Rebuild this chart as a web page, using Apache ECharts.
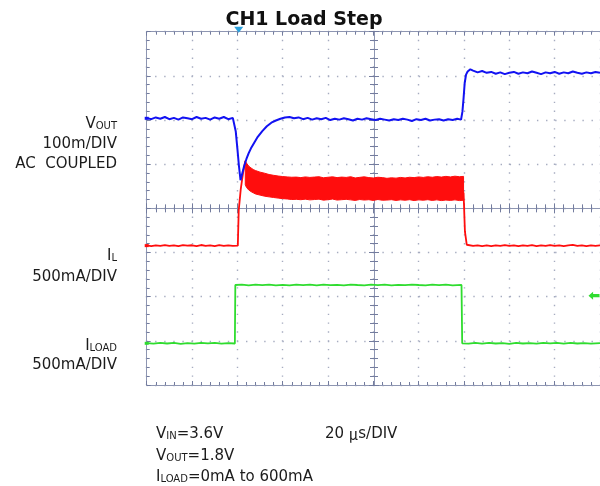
<!DOCTYPE html>
<html>
<head>
<meta charset="utf-8">
<script src="https://cdn.jsdelivr.net/npm/echarts@6/dist/echarts.min.js"></script>
<style>
  html, body { margin: 0; padding: 0; background: #fff; }
  #chart { width: 600px; height: 486px; }
</style>
</head>
<body>
<div id="chart"></div>
<script>
// ---- Scope settings -------------------------------------------------------
// Horizontal: 20 µs/div, 10 divisions. Vertical graticule: 8 divisions.
const timeRange = [0, 200];
const timePerDiv = 20;
const divRange = [-4, 4];

// Channel scales (each channel has its own offset on the screen)
const vOutRange = [-603.9, 196.1];   // mV, 100 mV/div, AC coupled
const iLRange = [-1578, 2422];       // mA, 500 mA/div
const iLoadRange = [-429, 3207];     // mA

// Trigger
const triggerTime = 40.6;            // µs
const triggerLevel = 490;            // mA on the load-current channel

// ---- Captured waveforms ----------------------------------------------------
// VOUT deviation [µs, mV]
const vOut = [
  [0, 1], [2, -2], [4, 2], [6, -1], [8, 3], [10, -2], [12, 1], [14, -3], [16, 2], [18, 0],
  [20, -2], [22, 3], [24, -1], [26, 1], [28, -3], [30, 2], [32, -1], [34, 3], [36, -2], [38, 1],
  [38.6, -2], [39.3, -30], [40, -68], [40.7, -108], [41.4, -140], [42.1, -126], [43, -108],
  [44, -92], [45, -79], [46, -68], [47.5, -55], [49, -42], [51, -29], [53, -18], [55, -10],
  [57, -5], [59, -1], [61, 2], [63, 3],
  [65, 0], [67, 2], [69, -2], [71, 1], [73, -3], [75, 0], [77, -2], [79, 1], [81, -4], [83, -1],
  [85, -3], [87, 0], [89, -2], [91, -5], [93, -1], [95, -3], [97, 0], [99, -2], [101, -4],
  [103, -1], [105, -3], [107, -5], [109, -2], [111, -4], [113, -1], [115, -3], [117, -6],
  [119, -2], [121, -4], [123, -1], [125, -5], [127, -3], [129, -2], [131, -5], [133, -2],
  [135, -4], [137, -1], [138.7, -3],
  [139.3, 15], [139.8, 45], [140.3, 80], [140.9, 99], [141.6, 106], [142.8, 111], [144, 108],
  [146, 104], [148, 107], [150, 103], [152, 105], [154, 101], [156, 104], [158, 100], [160, 103],
  [162, 105], [164, 101], [166, 104], [168, 102], [170, 106], [172, 103], [174, 100], [176, 104],
  [178, 102], [180, 105], [182, 101], [184, 104], [186, 102], [188, 106], [190, 103], [192, 101],
  [194, 104], [196, 102], [198, 105], [200, 103]
];

// Inductor current before the ripple band [µs, mA]
const iLRise = [
  [0, 2], [2, -5], [4, 4], [6, -2], [8, 6], [10, -4], [12, 3], [14, -6], [16, 5], [18, -1],
  [20, 4], [22, -5], [24, 7], [26, -2], [28, 3], [30, -6], [32, 5], [34, -3], [36, 4], [38, -2],
  [40.2, 0], [40.6, 400], [41.5, 640], [42.5, 820], [43.5, 960]
];

// Inductor current ripple envelope while loaded (µs, upper mA, lower mA)
const rippleTime = [
  43.5, 44, 45, 46, 47, 48, 50, 52, 54, 56, 58, 60, 62, 64, 66, 68, 70, 72, 74, 76, 78, 80,
  82, 84, 86, 88, 90, 92, 94, 96, 98, 100, 102, 104, 106, 108, 110, 112, 114, 116, 118, 120,
  122, 124, 126, 128, 130, 132, 134, 136, 138, 139.8
];
const rippleHigh = [
  960, 935, 900, 880, 862, 850, 832, 820, 805, 796, 788, 782, 778, 774, 776, 770, 778, 772,
  776, 780, 768, 774, 779, 770, 776, 772, 780, 766, 773, 779, 770, 766, 774, 770, 762, 768,
  764, 772, 766, 774, 770, 778, 772, 780, 774, 782, 776, 784, 778, 786, 780, 784
];
const rippleLow = [
  690, 660, 630, 612, 598, 585, 572, 560, 552, 545, 538, 532, 528, 522, 524, 520, 526, 518,
  522, 526, 515, 520, 527, 516, 520, 524, 518, 512, 522, 516, 520, 512, 522, 514, 516, 520,
  512, 518, 514, 520, 510, 518, 514, 520, 512, 518, 510, 516, 512, 518, 510, 514
];

// Inductor current after the load is released [µs, mA]
const iLFall = [
  [139.8, 600], [140.4, 160], [141.2, 10], [141.6, -6], [144, -2], [146, 4], [148, -5],
  [150, 2], [152, -6], [154, 3], [156, -3], [158, 5], [160, -4], [162, 2], [164, -6], [166, 4],
  [168, -2], [170, 5], [172, -5], [174, 2], [176, -3], [178, 6], [180, -4], [182, 2], [184, -5],
  [186, 3], [188, 8], [190, -2], [192, 4], [194, -5], [196, 2], [198, -3], [200, 3]
];

// Load current [µs, mA]
const iLoad = [
  [0, 3], [3, -4], [6, 5], [9, -2], [12, 4], [15, -5], [18, 2], [21, -3], [24, 5], [27, -1],
  [30, 4], [33, -4], [36, 3], [38.9, -2],
  [39.1, 600], [42, 604], [45, 596], [48, 603], [51, 598], [54, 605], [57, 597], [60, 602],
  [63, 596], [66, 604], [69, 599], [72, 603], [75, 597], [78, 605], [81, 598], [84, 602],
  [87, 596], [90, 604], [93, 600], [96, 597], [99, 605], [102, 599], [105, 603], [108, 596],
  [111, 602], [114, 598], [117, 605], [120, 600], [123, 597], [126, 603], [129, 598],
  [132, 604], [135, 597], [138.9, 601],
  [139.2, 0], [142, -4], [145, 4], [148, -3], [151, 5], [154, -2], [157, 3], [160, -5],
  [163, 4], [166, -2], [169, 3], [172, -4], [175, 5], [178, -1], [181, 4], [184, -3], [187, 5],
  [190, -2], [193, 3], [196, -4], [200, 2]
];

// ---- Styling ---------------------------------------------------------------
const colors = { vOut: '#1212f2', iL: '#ff0d0d', iLoad: '#2fdc2f', trig: '#2aa0dc' };
const gratLine = '#8e96b2';
const gratTick = '#737c9e';
const gratDot = '#a6acc0';
const textColor = '#1c1c1c';
const labelFont = 'DejaVu Sans';

const GRID = { left: 146.7, top: 31.7, right: -1.3, bottom: 101 };
const plotW = 600 - GRID.left - GRID.right;
const plotH = 486 - GRID.top - GRID.bottom;
const minorX = plotW / ((timeRange[1] - timeRange[0]) / timePerDiv) / 5;
const minorY = plotH / (divRange[1] - divRange[0]) / 5;

function xGrat(extra) {
  return Object.assign({
    type: 'value', gridIndex: 0, min: timeRange[0], max: timeRange[1], interval: timePerDiv,
    axisLabel: { show: false },
    axisLine: { show: true, onZero: false, lineStyle: { color: gratLine, width: 1 } },
    axisTick: { show: true, inside: true, length: 4, lineStyle: { color: gratTick } },
    minorTick: { show: true, splitNumber: 5, length: 3, lineStyle: { color: gratTick } },
    splitLine: { show: false }
  }, extra);
}
function yGrat(extra) {
  return Object.assign({
    type: 'value', gridIndex: 0, min: divRange[0], max: divRange[1], interval: 1,
    axisLabel: { show: false },
    axisLine: { show: true, onZero: false, lineStyle: { color: gratLine, width: 1 } },
    axisTick: { show: true, inside: true, length: 4, lineStyle: { color: gratTick } },
    minorTick: { show: true, splitNumber: 5, length: 3, lineStyle: { color: gratTick } },
    splitLine: { show: false }
  }, extra);
}
function hiddenY(range) {
  return { type: 'value', gridIndex: 0, min: range[0], max: range[1], show: false,
    axisLine: { onZero: false }, splitLine: { show: false } };
}

const chLevelMark = (color) => ({
  coord: [timeRange[0], 0], symbol: 'rect', symbolSize: [4, 3], itemStyle: { color }
});

const lineBase = {
  type: 'line', xAxisIndex: 0, showSymbol: false, symbol: 'none', animation: false, z: 5
};

// Ripple band: filled polygon between the upper and lower envelopes
function renderRipple(params, api) {
  if (params.dataIndex !== 0) return null;
  const upper = rippleTime.map((t, i) => api.coord([t, rippleHigh[i]]));
  const lower = rippleTime.map((t, i) => api.coord([t, rippleLow[i]])).reverse();
  return {
    type: 'polygon',
    shape: { points: upper.concat(lower) },
    style: { fill: colors.iL, stroke: colors.iL, lineWidth: 1 }
  };
}

const option = {
  animation: false,
  backgroundColor: '#ffffff',
  grid: [Object.assign({ containLabel: false }, GRID)],
  xAxis: [
    // bottom edge with dotted vertical division lines
    xGrat({ position: 'bottom', splitLine: { show: true, lineStyle: { color: gratDot, width: 1.4, type: [1.4, minorY - 1.4], dashOffset: 0.7 } } }),
    // top edge
    xGrat({ position: 'top' }),
    // centre horizontal axis, ticks both sides
    xGrat({ position: 'bottom', axisLine: { show: true, onZero: true, onZeroAxisIndex: 0, lineStyle: { color: gratLine } },
      axisTick: { show: true, inside: true, length: 5, lineStyle: { color: gratTick } },
      minorTick: { show: true, splitNumber: 5, length: 4, lineStyle: { color: gratTick } } }),
    xGrat({ position: 'bottom', axisLine: { show: true, onZero: true, onZeroAxisIndex: 0, lineStyle: { color: gratLine } },
      axisTick: { show: true, inside: false, length: 5, lineStyle: { color: gratTick } },
      minorTick: { show: true, splitNumber: 5, length: 4, lineStyle: { color: gratTick } } })
  ],
  yAxis: [
    // left edge with dotted horizontal division lines
    yGrat({ position: 'left', splitLine: { show: true, lineStyle: { color: gratDot, width: 1.4, type: [1.4, minorX - 1.4], dashOffset: 0.7 } } }),
    // centre vertical axis, ticks both sides
    yGrat({ position: 'left', offset: -plotW / 2,
      axisTick: { show: true, inside: true, length: 5, lineStyle: { color: gratTick } },
      minorTick: { show: true, splitNumber: 5, length: 4, lineStyle: { color: gratTick } } }),
    yGrat({ position: 'left', offset: -plotW / 2,
      axisTick: { show: true, inside: false, length: 5, lineStyle: { color: gratTick } },
      minorTick: { show: true, splitNumber: 5, length: 4, lineStyle: { color: gratTick } } }),
    hiddenY(vOutRange),   // 3
    hiddenY(iLRange),     // 4
    hiddenY(iLoadRange)   // 5
  ],
  series: [
    Object.assign({}, lineBase, {
      name: 'ILOAD', yAxisIndex: 5, data: iLoad,
      lineStyle: { color: colors.iLoad, width: 1.8 }, itemStyle: { color: colors.iLoad },
      markPoint: { silent: true, label: { show: false }, animation: false, data: [
        chLevelMark(colors.iLoad),
        { coord: [timeRange[1], triggerLevel], symbol: 'path://M0,5 L5,0 L5,3 L12,3 L12,7 L5,7 L5,10 Z',
          symbolSize: [11, 8], symbolOffset: [-6, 0], symbolKeepAspect: false, itemStyle: { color: colors.iLoad } }
      ] }
    }),
    Object.assign({}, lineBase, {
      name: 'IL', yAxisIndex: 4, data: iLRise,
      lineStyle: { color: colors.iL, width: 1.8 }, itemStyle: { color: colors.iL },
      markPoint: { silent: true, label: { show: false }, animation: false, data: [chLevelMark(colors.iL)] }
    }),
    {
      type: 'custom', name: 'IL ripple', xAxisIndex: 0, yAxisIndex: 4, z: 5, animation: false,
      renderItem: renderRipple,
      encode: { x: 0, y: [1, 2] },
      data: rippleTime.map((t, i) => [t, rippleHigh[i], rippleLow[i]])
    },
    Object.assign({}, lineBase, {
      name: 'IL release', yAxisIndex: 4, data: iLFall,
      lineStyle: { color: colors.iL, width: 1.8 }, itemStyle: { color: colors.iL }
    }),
    Object.assign({}, lineBase, {
      name: 'VOUT', yAxisIndex: 3, data: vOut, z: 6,
      lineStyle: { color: colors.vOut, width: 2 }, itemStyle: { color: colors.vOut },
      markPoint: { silent: true, label: { show: false }, animation: false, data: [
        chLevelMark(colors.vOut),
        { coord: [triggerTime, vOutRange[1]], symbol: 'triangle', symbolRotate: 180,
          symbolSize: [9, 6], symbolOffset: [0, -2], itemStyle: { color: colors.trig } }
      ] }
    })
  ],
  graphic: [
    { type: 'text', x: 304, y: 20, style: { text: 'CH1 Load Step', fill: '#111', fontSize: 19, fontWeight: 'bold',
      fontFamily: labelFont, align: 'center', verticalAlign: 'middle' } }
  ]
};

// Channel annotations and test conditions
const subRich = {
  m: { fontSize: 15, fontFamily: labelFont, fill: textColor },
  s: { fontSize: 10, fontFamily: labelFont, fill: textColor, verticalAlign: 'bottom' },
  mu: { fontSize: 15, fontFamily: 'Noto Sans CJK JP', fill: textColor }
};
const textRows = [
  { text: '{m|V}{s|OUT}', x: 117, y: 124, align: 'right' },
  { text: '{m|100m/DIV}', x: 117, y: 144, align: 'right' },
  { text: '{m|AC  COUPLED}', x: 117, y: 164, align: 'right' },
  { text: '{m|I}{s|L}', x: 117, y: 256, align: 'right' },
  { text: '{m|500mA/DIV}', x: 117, y: 277, align: 'right' },
  { text: '{m|I}{s|LOAD}', x: 117, y: 346, align: 'right' },
  { text: '{m|500mA/DIV}', x: 117, y: 365, align: 'right' },
  { text: '{m|V}{s|IN}{m|=3.6V}', x: 156, y: 434, align: 'left' },
  { text: '{m|V}{s|OUT}{m|=1.8V}', x: 156, y: 456, align: 'left' },
  { text: '{m|I}{s|LOAD}{m|=0mA to 600mA}', x: 156, y: 477, align: 'left' },
  { text: '{m|20 }{mu|μ}{m|s/DIV}', x: 325, y: 434, align: 'left' }
];
textRows.forEach(r => option.graphic.push({
  type: 'text', x: r.x, y: r.y,
  style: { text: r.text, rich: subRich, fontSize: 15, fontFamily: labelFont, fill: textColor,
    align: r.align, verticalAlign: 'middle' }
}));

const chart = echarts.init(document.getElementById('chart'), null, { renderer: 'canvas' });
chart.setOption(option);
</script>
</body>
</html>
